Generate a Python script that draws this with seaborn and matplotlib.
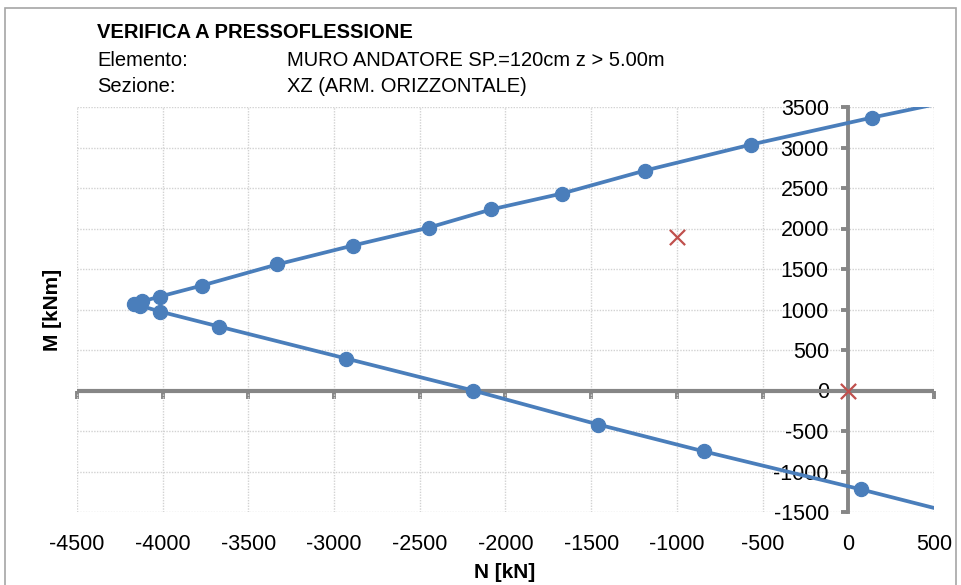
import numpy as np
import matplotlib
matplotlib.use("Agg")
import matplotlib.pyplot as plt
from matplotlib.patches import Rectangle
import seaborn as sns

# dominio di resistenza
N_lower = [76, -840, -1459, -2189, -2930, -3672, -4016, -4133]
M_lower = [-1222, -753, -420, 0, 395, 790, 975, 1049]
N_upper = [-4168, -4121, -4016, -3771, -3333, -2890, -2446, -2084, -1670, -1185, -566, 140]
M_upper = [1074, 1099, 1160, 1296, 1556, 1790, 2012, 2235, 2432, 2716, 3037, 3370]
# prolungamento della curva fino al bordo destro
N_end = 500
M_end_lower = -1450
M_end_upper = 3530

# sollecitazioni di verifica
N_ed = [-1000, 0]
M_ed = [1900, 0]

x_ticks = list(range(-4500, 501, 500))
y_ticks = list(range(-1500, 3501, 500))

BLUE = '#4a7ebb'
RED = '#c0504d'
GRAY = '#868686'

sns.set_theme(style='white')
plt.rcParams['font.family'] = ['Liberation Sans', 'DejaVu Sans']
plt.rcParams['axes.unicode_minus'] = False
plt.rcParams['text.color'] = 'black'

fig = plt.figure(figsize=(9.62, 5.85), dpi=100)
ax = fig.add_axes([77/962, 73/585, 857/962, 405/585])

N_line = [N_end] + N_lower + N_upper + [N_end]
M_line = [M_end_lower] + M_lower + M_upper + [M_end_upper]
sns.lineplot(x=N_line, y=M_line, sort=False, estimator=None, color=BLUE,
             linewidth=2.7, ax=ax, zorder=3)
sns.scatterplot(x=N_lower + N_upper, y=M_lower + M_upper, color=BLUE,
                edgecolor=BLUE, s=105, ax=ax, zorder=4)
sns.scatterplot(x=N_ed, y=M_ed, marker='x', color=RED, s=120,
                linewidth=1.6, ax=ax, zorder=5)

ax.set_xlim(-4500, 500)
ax.set_ylim(-1500, 3500)
ax.set_xticks(x_ticks)
ax.set_yticks(y_ticks)
ax.set_xlabel('')
ax.set_ylabel('')
ax.grid(True, color='#d2d2d2', linestyle=(0, (1, 1)), linewidth=1)

for s in ['top', 'right', 'bottom']:
    ax.spines[s].set_visible(False)
ax.spines['left'].set_position(('data', 0))
ax.spines['left'].set_color(GRAY)
ax.spines['left'].set_linewidth(2.8)
ax.spines['left'].set_zorder(2.5)

ax.tick_params(axis='x', length=0, pad=16, labelsize=15.5, labelcolor='black')
ax.tick_params(axis='y', direction='out', length=5, width=2.8, color=GRAY,
               pad=9, labelsize=15.5, labelcolor='black', left=True)

# asse N passante per M = 0
ax.axhline(0, color=GRAY, linewidth=3.0, zorder=2.5)
y0 = (0 - (-1500)) / (3500 - (-1500))
sec = ax.secondary_xaxis(y0)
sec.set_xticks(x_ticks)
sec.set_xticklabels([])
sec.tick_params(direction='out', length=6, width=2.8, color=GRAY)
for s in sec.spines.values():
    s.set_visible(False)

fig.text(97/962, 1 - 32/585, 'VERIFICA A PRESSOFLESSIONE', fontsize=14.5,
         fontweight='bold', ha='left', va='center')
fig.text(97/962, 1 - 61/585, 'Elemento:', fontsize=14.5, ha='left', va='center')
fig.text(287/962, 1 - 61/585, 'MURO ANDATORE SP.=120cm z > 5.00m', fontsize=14.5,
         ha='left', va='center')
fig.text(97/962, 1 - 87/585, 'Sezione:', fontsize=14.5, ha='left', va='center')
fig.text(287/962, 1 - 87/585, 'XZ (ARM. ORIZZONTALE)', fontsize=14.5,
         ha='left', va='center')

fig.text(505/962, 1 - 572/585, 'N [kN]', fontsize=15, fontweight='bold',
         ha='center', va='center')
fig.text(52/962, 1 - 310/585, 'M [kNm]', fontsize=15, fontweight='bold',
         rotation=90, ha='center', va='center')

fig.patches.append(Rectangle((5/962, -0.02), 951/962, 1 - 8/585 + 0.02,
                             transform=fig.transFigure, fill=False,
                             edgecolor='#a6a6a6', linewidth=1.2))

fig.savefig('out.png', dpi=100)
